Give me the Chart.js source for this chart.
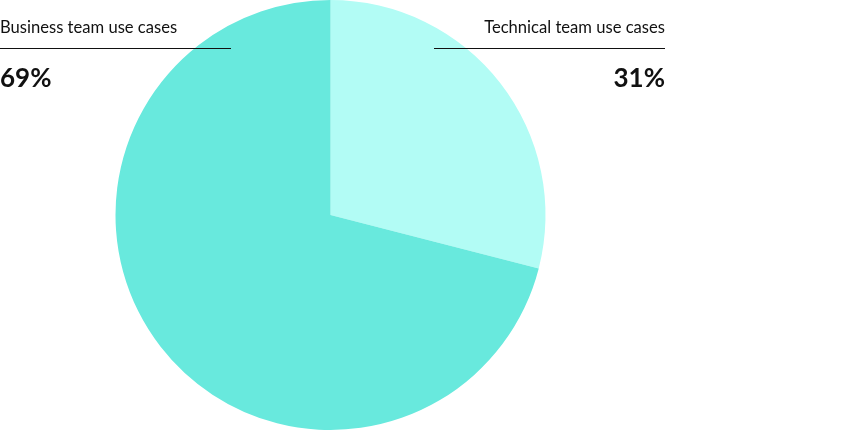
<!DOCTYPE html>
<html>
<head>
<meta charset="utf-8">
<script src="https://cdn.jsdelivr.net/npm/chart.js@4/dist/chart.umd.min.js"></script>
<style>
  html, body { margin: 0; padding: 0; background: #fff; }
  .wrap { position: relative; width: 849px; height: 431px; overflow: hidden; }
  #useCaseChart { position: absolute; left: 0; top: 0; }
  .callout { position: absolute; top: 0; z-index: 2; font-family: Lato, 'Open Sans', sans-serif; color: #111; }
  .callout .name { font-size: 16.6px; line-height: 20px; padding-top: 17px; height: 49px; box-sizing: border-box; border-bottom: 1px solid #111; white-space: nowrap; }
  .callout .pct { font-size: 26px; font-weight: 700; line-height: 30px; margin-top: 13px; }
  .callout.left { left: 0; width: 231px; text-align: left; }
  .callout.right { left: 434px; width: 231px; text-align: right; }
</style>
</head>
<body>
<div class="wrap">
  <canvas id="useCaseChart" width="849" height="431"></canvas>
  <div class="callout left"><div class="name" id="nameLeft"></div><div class="pct" id="pctLeft"></div></div>
  <div class="callout right"><div class="name" id="nameRight"></div><div class="pct" id="pctRight"></div></div>
</div>
<script>
// slices run clockwise from 12 o'clock
const categories = ['Technical team use cases', 'Business team use cases'];
const sliceValues = [29, 71];          // share as drawn in the picture
const shareLabels = ['31%', '69%'];    // printed call-out text
const sliceColors = ['#b2fcf5', '#68e9dd'];

document.getElementById('nameRight').textContent = categories[0];
document.getElementById('pctRight').textContent = shareLabels[0];
document.getElementById('nameLeft').textContent = categories[1];
document.getElementById('pctLeft').textContent = shareLabels[1];

new Chart(document.getElementById('useCaseChart').getContext('2d'), {
  type: 'pie',
  data: {
    labels: categories,
    datasets: [{
      data: sliceValues,
      backgroundColor: sliceColors,
      borderWidth: 0,
      hoverOffset: 0,
    }],
  },
  options: {
    responsive: false,
    animation: false,
    layout: { padding: { left: 115, right: 303, top: 0, bottom: 1 } },
    plugins: {
      legend: { display: false },
      tooltip: { enabled: false },
    },
    events: [],
  },
});
</script>
</body>
</html>
